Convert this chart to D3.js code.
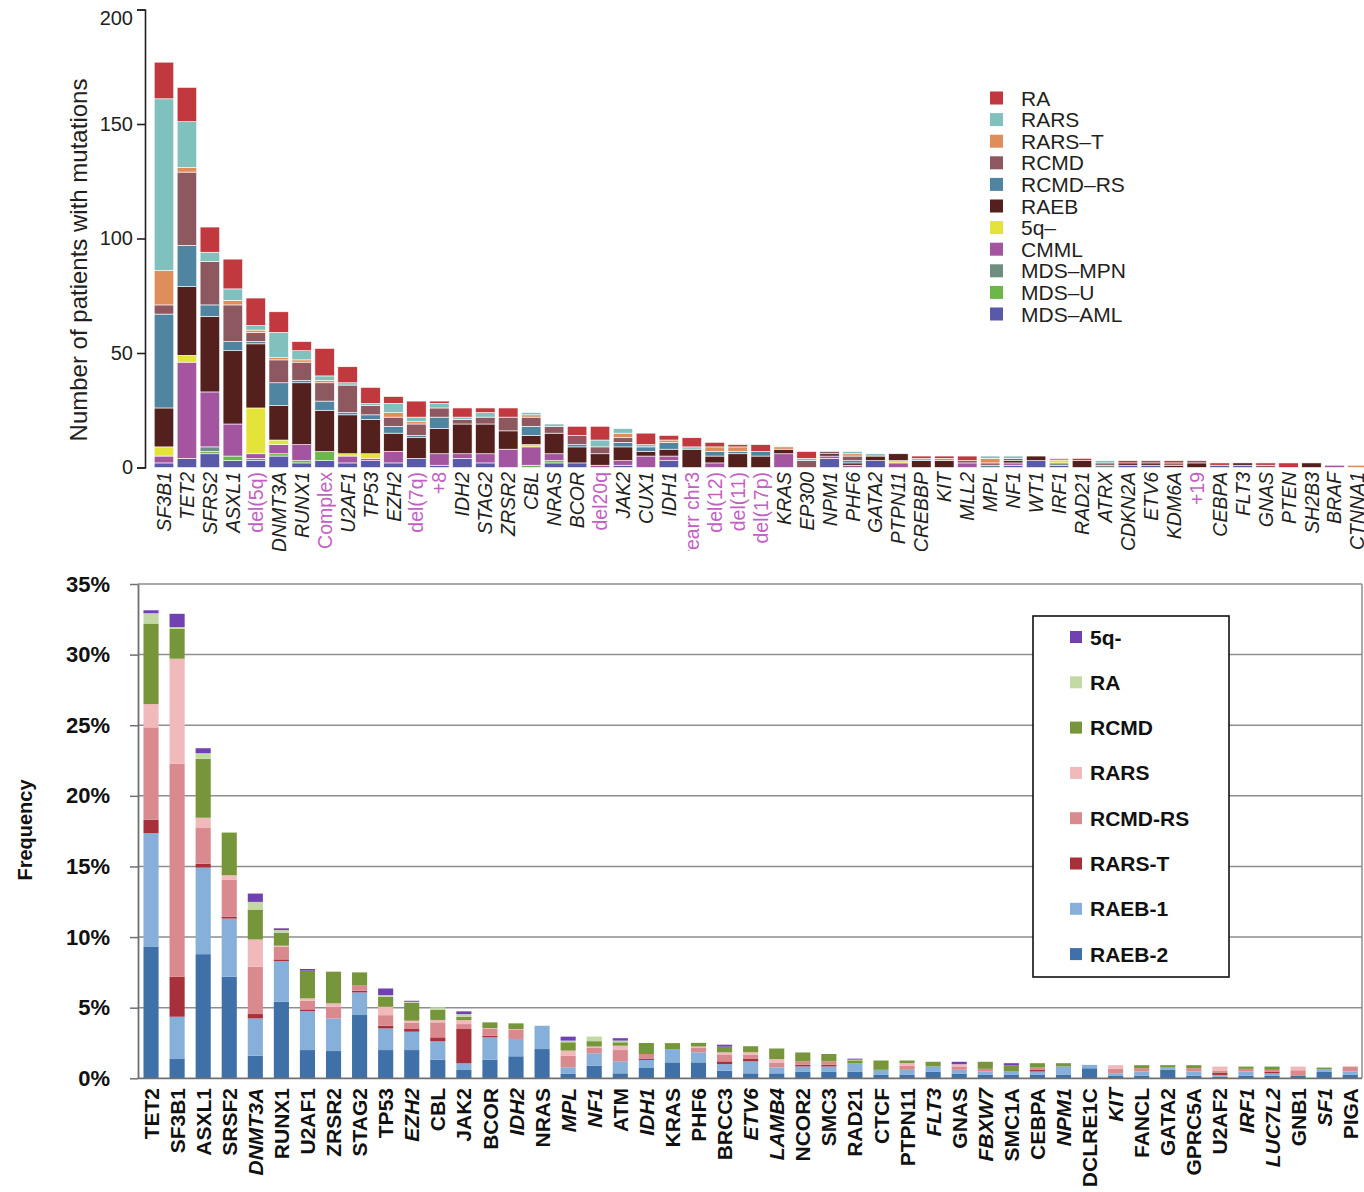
<!DOCTYPE html>
<html>
<head>
<meta charset="utf-8">
<script src="https://cdn.jsdelivr.net/npm/d3@7"></script>
<style>
  body { margin: 0; background: #fff; }
  svg { display: block; font-family: "Liberation Sans", Arial, sans-serif; }
</style>
</head>
<body>
<svg id="chart" width="1364" height="1192"></svg>
<script>
// ---------- top panel: number of patients ----------
const topGenes = ["SF3B1","TET2","SFRS2","ASXL1","del(5q)","DNMT3A","RUNX1","Complex","U2AF1","TP53",
  "EZH2","del(7q)","+8","IDH2","STAG2","ZRSR2","CBL","NRAS","BCOR","del20q",
  "JAK2","CUX1","IDH1","rearr chr3","del(12)","del(11)","del(17p)","KRAS","EP300","NPM1",
  "PHF6","GATA2","PTPN11","CREBBP","KIT","MLL2","MPL","NF1","WT1","IRF1",
  "RAD21","ATRX","CDKN2A","ETV6","KDM6A","+19","CEBPA","FLT3","GNAS","PTEN",
  "SH2B3","BRAF","CTNNA1"];
const cytoLabels = ["del(5q)","Complex","del(7q)","+8","del20q","rearr chr3","del(12)","del(11)","del(17p)","+19"];

const topSubtypes = ["RA","RARS","RARS–T","RCMD","RCMD–RS","RAEB","5q–","CMML","MDS–MPN","MDS–U","MDS–AML"];
const topColors = ["#c1393f","#80c1bd","#e08d5c","#8e5861","#4f85a1","#53201d","#e3e33a","#a4559f","#6e8e80","#6db649","#5959a9"];

const topRA     = [16,15,11,13,12,9,4,12,7,7, 3,7,1,4,2,4,0,0,4,6, 0,5,2,4,2,1,3,0,3,0, 0,0,0,1,1,2,0,0,0,0, 1,0,1,0,1,0,1,0,1,2, 0,0,0];
const topRARS   = [75,20,4,5,2,11,4,2,1,1, 4,2,2,1,2,0,1,1,0,3, 2,1,0,1,0,0,0,0,1,0, 1,1,0,1,0,0,1,1,0,0, 0,1,0,0,0,0,0,0,0,0, 0,0,0];
const topRARST  = [15,2,0,2,1,1,1,1,0,0, 2,1,0,0,0,0,1,0,0,0, 2,0,1,0,2,2,0,1,0,0, 1,0,0,0,1,0,2,0,0,1, 0,0,0,0,0,0,0,0,0,0, 0,0,1];
const topRCMD   = [4,32,19,16,4,10,8,8,12,4, 4,5,4,2,3,6,4,3,4,3, 2,0,0,0,0,0,0,0,3,1, 2,0,0,0,0,1,1,1,0,0, 0,1,0,1,1,1,0,0,1,0, 0,0,0];
const topRCMDRS = [41,18,5,4,1,10,1,4,1,2, 3,1,5,0,0,0,4,0,1,0, 2,2,3,0,2,1,2,0,0,0, 1,0,0,0,0,0,1,0,0,0, 0,0,0,0,0,0,0,0,0,0, 0,0,0];
const topRAEB   = [17,30,33,32,28,15,27,18,17,15, 8,9,11,13,13,8,4,9,7,5, 6,2,3,8,3,6,5,2,0,1, 1,2,3,3,3,0,0,1,2,0, 3,0,1,1,1,2,0,1,0,0, 2,0,0];
const top5q     = [4,3,0,0,20,2,0,0,1,2, 0,0,0,0,0,0,1,0,0,0, 0,0,0,0,0,0,0,0,0,0, 0,0,1,0,0,0,0,0,0,1, 0,0,0,0,0,0,0,0,0,0, 0,0,0];
const topCMML   = [3,42,24,14,2,4,7,0,3,1, 5,0,5,2,4,8,8,3,0,1, 2,5,2,0,2,0,0,6,0,1, 1,0,2,0,0,2,0,1,0,0, 0,0,0,0,0,0,0,0,0,0, 0,1,0];
const topMPN    = [0,0,2,0,1,0,0,0,0,0, 0,0,0,0,0,0,0,0,0,0, 0,0,0,0,0,0,0,0,0,0, 0,0,0,0,0,0,0,0,0,1, 0,1,0,0,0,0,0,0,0,0, 0,0,0];
const topMDSU   = [0,0,1,2,0,1,1,4,0,0, 0,0,0,0,0,0,1,1,0,0, 0,0,0,0,0,0,0,0,0,0, 0,0,0,0,0,0,0,0,0,0, 0,0,0,0,0,0,0,0,0,0, 0,0,0];
const topAML    = [2,4,6,3,3,5,2,3,2,3, 2,4,1,4,2,0,0,2,2,0, 1,0,3,0,0,0,0,0,0,4, 0,3,0,0,0,0,0,1,3,1, 0,0,1,1,0,0,1,1,0,0, 0,0,0];
const topTicks = [0,50,100,150,200];

// ---------- bottom panel: frequency ----------
const botGenes = ["TET2","SF3B1","ASXL1","SRSF2","DNMT3A","RUNX1","U2AF1","ZRSR2","STAG2","TP53",
  "EZH2","CBL","JAK2","BCOR","IDH2","NRAS","MPL","NF1","ATM","IDH1",
  "KRAS","PHF6","BRCC3","ETV6","LAMB4","NCOR2","SMC3","RAD21","CTCF","PTPN11",
  "FLT3","GNAS","FBXW7","SMC1A","CEBPA","NPM1","DCLRE1C","KIT","FANCL","GATA2",
  "GPRC5A","U2AF2","IRF1","LUC7L2","GNB1","SF1","PIGA"];
const botItalic = ["DNMT3A","EZH2","IDH2","MPL","NF1","IDH1","ETV6","LAMB4","FLT3","FBXW7","NPM1","KIT","IRF1","LUC7L2","SF1"];

const botSubtypes = ["5q-","RA","RCMD","RARS","RCMD-RS","RARS-T","RAEB-1","RAEB-2"];
const botColors = ["#7141b1","#c3d9a3","#77963b","#f0b9ba","#d98a8f","#a8303a","#86b0d9","#3f70a7"];

const bot5q     = [.21,.94,.35,0,.59,.12,.12,0,0,.47, .07,0,.19,0,0,0,.28,0,.17,0, 0,0,.14,0,0,0,0,.07,0,0, 0,.17,0,.16,0,0,0,0,0,0, 0,0,0,0,0,0,0];
const botRA     = [.73,.12,.4,0,.54,.19,0,0,0,.12, .07,.19,.19,0,0,0,.12,.33,.12,0, 0,0,0,0,0,0,0,.05,0,0, 0,0,0,0,0,0,0,0,0,0, 0,0,0,0,0,0,0];
const botRCMD   = [5.7,2.12,4.17,3.02,2.12,.92,1.96,2.24,.9,.71, 1.27,.71,.24,.4,.4,0,.59,.38,.24,.78, .42,.26,.4,.42,.75,.63,.52,.19,.66,.18, .33,0,.5,.43,.31,.23,0,0,.21,.16, .21,0,.16,.23,0,.12,0];
const botRARS   = [1.65,7.43,.73,.31,1.93,.07,.17,.24,0,.59, .14,.17,.28,.07,.07,0,.35,.1,.31,0, 0,.1,.19,.17,.24,0,0,0,0,.18, 0,.16,0,0,0,0,0,.24,0,0, 0,.28,0,0,.26,0,0];
const botRCMDRS = [6.55,15.09,2.52,2.64,3.35,.9,.61,.83,.4,.75, .45,1.06,.35,.47,.64,0,.83,.38,.8,.35, 0,.31,.45,.31,.35,.24,.24,0,0,.3, 0,.24,.19,0,.14,0,0,.33,.24,0, .24,.17,.19,.12,.4,0,.35];
const botRARST  = [.94,2.83,.28,.12,.31,.12,.12,0,.12,.19, .19,.28,2.43,.12,0,0,0,0,0,.07, 0,0,.19,.17,0,.12,.12,0,0,0, 0,0,0,0,.14,0,0,0,0,0, 0,.14,0,.12,0,0,0];
const botRAEB1  = [8.06,2.99,6.13,4.12,2.64,2.88,2.76,2.31,1.6,1.53, 1.3,1.3,.47,1.58,1.22,1.65,.47,.87,.85,.57, .94,.71,.47,.85,.42,.36,.36,.6,.36,.36, .36,.29,.24,.24,.24,.6,.24,.19,.31,.17, .31,.12,.31,.19,0,.19,.24];
const botRAEB2  = [9.3,1.37,8.79,7.19,1.6,5.42,2.0,1.93,4.48,2.0, 2.0,1.32,.59,1.32,1.56,2.07,.31,.9,.35,.73, 1.13,1.13,.54,.35,.35,.48,.48,.48,.24,.24, .48,.31,.24,.24,.24,.24,.71,.17,.17,.6, .17,.12,.17,.17,.17,.45,.24];
const botTicks = [0,5,10,15,20,25,30,35];

const svg = d3.select("#chart");
const ink = "#231f20";

// ================= top panel =================
const topSeries = [topRA, topRARS, topRARST, topRCMD, topRCMDRS, topRAEB, top5q, topCMML, topMPN, topMDSU, topAML];
const topRows = topGenes.map((g, i) => {
  const row = { gene: g };
  topSubtypes.forEach((k, j) => { row[k] = topSeries[j][i]; });
  return row;
});
const topColor = d3.scaleOrdinal().domain(topSubtypes).range(topColors);

svg.append("defs").append("clipPath").attr("id", "topClip")
  .append("rect").attr("x", 0).attr("y", 0).attr("width", 1364).attr("height", 551);

const topG = svg.append("g").attr("clip-path", "url(#topClip)");

const xTop = d3.scaleBand().domain(topGenes)
  .range([152.5, 152.5 + 53 * 22.95]).paddingInner(0.15).paddingOuter(0.075);
const yTop = d3.scaleLinear().domain([0, 200]).range([467.5, 9.5]);

const topStack = d3.stack().keys(topSubtypes.slice().reverse())(topRows);

topG.append("g")
  .selectAll("g")
  .data(topStack)
  .join("g")
  .attr("fill", d => topColor(d.key))
  .selectAll("rect")
  .data(d => d.filter(p => p[1] > p[0]))
  .join("rect")
  .attr("x", d => xTop(d.data.gene))
  .attr("y", d => yTop(d[1]))
  .attr("width", xTop.bandwidth())
  .attr("height", d => yTop(d[0]) - yTop(d[1]))
  .attr("stroke", "#fff")
  .attr("stroke-width", 0.6);

// y axis (bracket style)
const yAxisTop = topG.append("g")
  .attr("transform", "translate(145,0)")
  .call(d3.axisLeft(yTop).tickValues(topTicks).tickSize(8).tickSizeOuter(8).tickPadding(4));
yAxisTop.select(".domain").attr("stroke", ink).attr("stroke-width", 1.6);
yAxisTop.selectAll(".tick line").attr("stroke", ink).attr("stroke-width", 1.6);
yAxisTop.selectAll(".tick text")
  .attr("fill", ink)
  .attr("dy", d => d === 200 ? "0.75em" : "0.32em")
  .style("font-size", "20px")
  .style("font-family", "'Liberation Sans', Arial, sans-serif");

topG.append("text")
  .attr("transform", "translate(79,260) rotate(-90)")
  .attr("text-anchor", "middle")
  .attr("dy", "0.35em")
  .attr("fill", ink)
  .style("font-size", "24px")
  .text("Number of patients with mutations");

// category labels
topG.append("g")
  .selectAll("text")
  .data(topGenes)
  .join("text")
  .attr("transform", d => `translate(${xTop(d) + xTop.bandwidth() / 2},472) rotate(-90)`)
  .attr("text-anchor", "end")
  .attr("dy", "0.36em")
  .attr("fill", d => cytoLabels.includes(d) ? "#c45fc4" : ink)
  .style("font-style", d => cytoLabels.includes(d) ? "normal" : "italic")
  .style("font-size", "19.5px")
  .text(d => d);

// legend
const legTop = topG.append("g")
  .selectAll("g")
  .data(topSubtypes)
  .join("g")
  .attr("transform", (d, i) => `translate(990,${98 + i * 21.6})`);
legTop.append("rect")
  .attr("x", 0).attr("y", -6.5).attr("width", 13).attr("height", 13)
  .attr("fill", d => topColor(d));
legTop.append("text")
  .attr("x", 31).attr("dy", "0.36em")
  .attr("fill", ink)
  .style("font-size", "21px")
  .text(d => d);

// ================= bottom panel =================
const botSeries = [bot5q, botRA, botRCMD, botRARS, botRCMDRS, botRARST, botRAEB1, botRAEB2];
const botRows = botGenes.map((g, i) => {
  const row = { gene: g };
  botSubtypes.forEach((k, j) => { row[k] = botSeries[j][i]; });
  return row;
});
const botColor = d3.scaleOrdinal().domain(botSubtypes).range(botColors);

const xBot = d3.scaleBand().domain(botGenes)
  .range([138, 138 + 47 * 26.07]).paddingInner(0.42).paddingOuter(0.21);
const yBot = d3.scaleLinear().domain([0, 35]).range([1078.3, 584]);

const botG = svg.append("g");

// gridlines
botG.append("g")
  .selectAll("line")
  .data(botTicks.slice(1))
  .join("line")
  .attr("x1", 138).attr("x2", 1362)
  .attr("y1", d => yBot(d)).attr("y2", d => yBot(d))
  .attr("stroke", "#8e8e8e")
  .attr("stroke-width", 1.5);

botG.append("line")
  .attr("x1", 1362).attr("x2", 1362)
  .attr("y1", yBot(35)).attr("y2", yBot(0))
  .attr("stroke", "#8e8e8e").attr("stroke-width", 1.5);

const botStack = d3.stack().keys(botSubtypes.slice().reverse())(botRows);

botG.append("g")
  .selectAll("g")
  .data(botStack)
  .join("g")
  .attr("fill", d => botColor(d.key))
  .selectAll("rect")
  .data(d => d.filter(p => p[1] > p[0]))
  .join("rect")
  .attr("x", d => xBot(d.data.gene))
  .attr("y", d => yBot(d[1]))
  .attr("width", xBot.bandwidth())
  .attr("height", d => yBot(d[0]) - yBot(d[1]));

// baseline
botG.append("line")
  .attr("x1", 138).attr("x2", 1362)
  .attr("y1", yBot(0)).attr("y2", yBot(0))
  .attr("stroke", "#707070").attr("stroke-width", 1.8);

// y axis
const yAxisBot = botG.append("g")
  .attr("transform", "translate(138,0)")
  .call(d3.axisLeft(yBot).tickValues(botTicks).tickSize(8).tickSizeOuter(0).tickPadding(20)
    .tickFormat(d => d + "%"));
yAxisBot.select(".domain").attr("stroke", "#707070").attr("stroke-width", 1.8);
yAxisBot.selectAll(".tick line").attr("stroke", "#707070").attr("stroke-width", 1.5);
yAxisBot.selectAll(".tick text")
  .attr("fill", "#111")
  .style("font-size", "22px")
  .style("font-weight", "bold")
  .style("font-family", "'Liberation Sans', Arial, sans-serif");

botG.append("text")
  .attr("transform", "translate(25,830) rotate(-90)")
  .attr("text-anchor", "middle")
  .attr("dy", "0.35em")
  .attr("fill", "#111")
  .style("font-size", "20px")
  .style("font-weight", "bold")
  .text("Frequency");

// category labels
botG.append("g")
  .selectAll("text")
  .data(botGenes)
  .join("text")
  .attr("transform", d => `translate(${xBot(d) + xBot.bandwidth() / 2},1088) rotate(-90)`)
  .attr("text-anchor", "end")
  .attr("dy", "0.36em")
  .attr("fill", "#111")
  .style("font-weight", "bold")
  .style("font-style", d => botItalic.includes(d) ? "italic" : "normal")
  .style("font-size", "21px")
  .text(d => d);

// legend box
botG.append("rect")
  .attr("x", 1033).attr("y", 616).attr("width", 196).attr("height", 361)
  .attr("fill", "#fff").attr("stroke", "#111").attr("stroke-width", 1.6);

const legBot = botG.append("g")
  .selectAll("g")
  .data(botSubtypes)
  .join("g")
  .attr("transform", (d, i) => `translate(1070,${637 + i * 45.3})`);
legBot.append("rect")
  .attr("x", 0).attr("y", -6).attr("width", 12).attr("height", 12)
  .attr("fill", d => botColor(d));
legBot.append("text")
  .attr("x", 20).attr("dy", "0.36em")
  .attr("fill", "#111")
  .style("font-size", "21px")
  .style("font-weight", "bold")
  .text(d => d);
</script>
</body>
</html>
